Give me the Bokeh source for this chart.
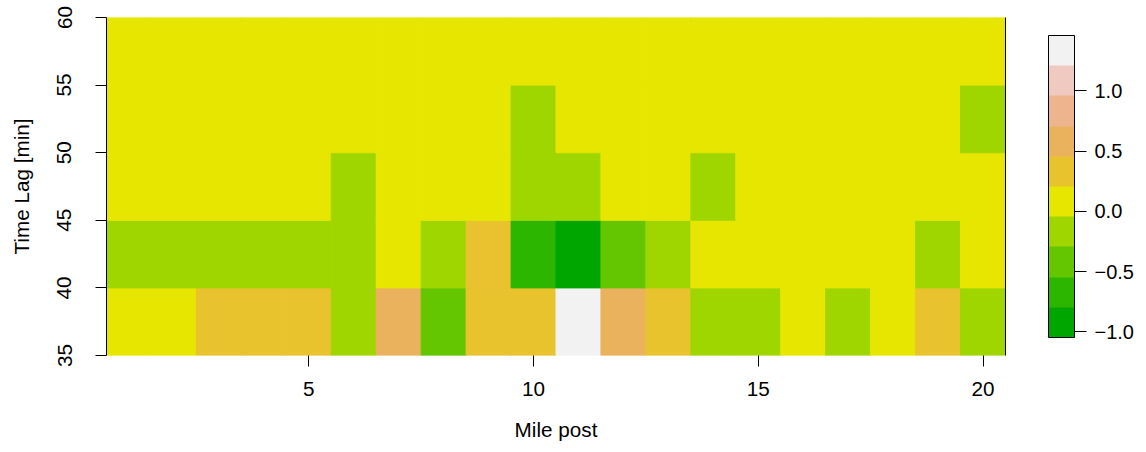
from bokeh.plotting import figure
from bokeh.models import (LinearColorMapper, ColorBar, FixedTicker, CustomJSTickFormatter,
                          ColumnDataSource, LinearAxis)
from bokeh.transform import transform
from bokeh.embed import file_html
from bokeh.resources import INLINE

# ---- data ----
miles = list(range(1, 21))
lag_lower = [35, 40, 45, 50, 55]  # lower edge of each 5-minute time lag bin
row_35_40 = [0.12, 0.15, 0.31, 0.36, 0.28, -0.14, 0.55, -0.41, 0.33, 0.38,
             1.459, 0.61, 0.27, -0.09, -0.17, 0.08, -0.12, 0.04, 0.30, -0.21]
row_40_45 = [-0.18, -0.22, -0.15, -0.19, -0.16, -0.11, 0.02, -0.20, 0.25, -0.71,
             -1.047, -0.38, -0.13, 0.05, 0.09, 0.03, 0.06, 0.01, -0.10, 0.03]
row_45_50 = [0.07, 0.04, 0.10, 0.06, 0.02, -0.08, 0.05, 0.03, 0.01, -0.19,
             -0.12, 0.02, 0.00, -0.07, 0.04, 0.06, 0.08, 0.05, 0.03, 0.02]
row_50_55 = [0.05, 0.08, 0.06, 0.04, 0.07, 0.03, 0.05, 0.06, 0.02, -0.09,
             0.01, 0.04, 0.05, 0.03, 0.06, 0.05, 0.04, 0.07, 0.02, -0.06]
row_55_60 = [0.06, 0.05, 0.07, 0.04, 0.06, 0.05, 0.03, 0.06, 0.04, 0.02,
             0.03, 0.05, 0.06, 0.04, 0.05, 0.07, 0.06, 0.05, 0.04, 0.03]
rows = [row_35_40, row_40_45, row_45_50, row_50_55, row_55_60]

x_ticks = [5, 10, 15, 20]
y_ticks = [35, 40, 45, 50, 55, 60]
cbar_ticks = [-1.0, -0.5, 0.0, 0.5, 1.0]
palette = ["#00A600", "#2DB600", "#63C600", "#A0D600", "#E6E600",
           "#E8C32E", "#EBB25E", "#EDB48E", "#F0C9C0", "#F2F2F2"]

# ---- build table ----
xs, ys, vals = [], [], []
for lo, row in zip(lag_lower, rows):
    for m, v in zip(miles, row):
        xs.append(m)
        ys.append(lo + 2.5)
        vals.append(v)
all_vals = [v for r in rows for v in r]
src = ColumnDataSource(dict(x=xs, y=ys, v=vals))

mapper = LinearColorMapper(palette=palette, low=min(all_vals), high=max(all_vals))

FONT = "Liberation Sans"
FS = "20.7px"

p = figure(width=1138, height=444, x_range=(0.5, 20.5), y_range=(35, 60),
           output_backend="svg", toolbar_location=None,
           min_border_left=106, min_border_right=133, min_border_top=17, min_border_bottom=89)
p.grid.visible = False
p.outline_line_color = None
p.background_fill_color = "white"

p.rect(x="x", y="y", width=1, height=5, source=src,
       fill_color=transform("v", mapper), line_color=transform("v", mapper), line_width=1)

# axes
xa = p.xaxis[0]
xa.ticker = FixedTicker(ticks=x_ticks)
xa.axis_line_color = None
xa.major_tick_out = 11
xa.major_tick_in = 0
xa.minor_tick_line_color = None
xa.major_label_standoff = 15
xa.axis_label = "Mile post"
xa.axis_label_standoff = 19

ya = p.yaxis[0]
ya.ticker = FixedTicker(ticks=y_ticks)
ya.axis_line_color = "black"
ya.major_tick_out = 11
ya.major_tick_in = 0
ya.minor_tick_line_color = None
ya.major_label_orientation = "vertical"
ya.major_label_standoff = 24
ya.axis_label = "Time Lag [min]"
ya.axis_label_standoff = 22

for ax in (xa, ya):
    ax.major_label_text_font = FONT
    ax.major_label_text_font_size = FS
    ax.major_label_text_color = "black"
    ax.axis_label_text_font = FONT
    ax.axis_label_text_font_size = FS
    ax.axis_label_text_font_style = "normal"
    ax.axis_label_text_color = "black"
    ax.major_tick_line_color = "black"

# right edge line
ra = LinearAxis(ticker=FixedTicker(ticks=[]), major_label_text_font_size="0px",
                axis_line_color="black", major_tick_line_color=None, minor_tick_line_color=None)
p.add_layout(ra, "right")

cbar = ColorBar(color_mapper=mapper, ticker=FixedTicker(ticks=cbar_ticks),
                formatter=CustomJSTickFormatter(code="return tick.toFixed(1).replace('-', '\u2212');"),
                width=26, height=302, padding=0, margin=0, location=(942, 18),
                bar_line_color="black", bar_line_width=1,
                major_tick_out=12, major_tick_in=0, major_tick_line_color="black",
                minor_tick_line_color=None, label_standoff=8,
                major_label_text_font=FONT, major_label_text_font_size="20px",
                major_label_text_color="black",
                border_line_color=None, background_fill_color=None)
p.add_layout(cbar, "center")

open("out.html", "w").write(file_html(p, INLINE))
